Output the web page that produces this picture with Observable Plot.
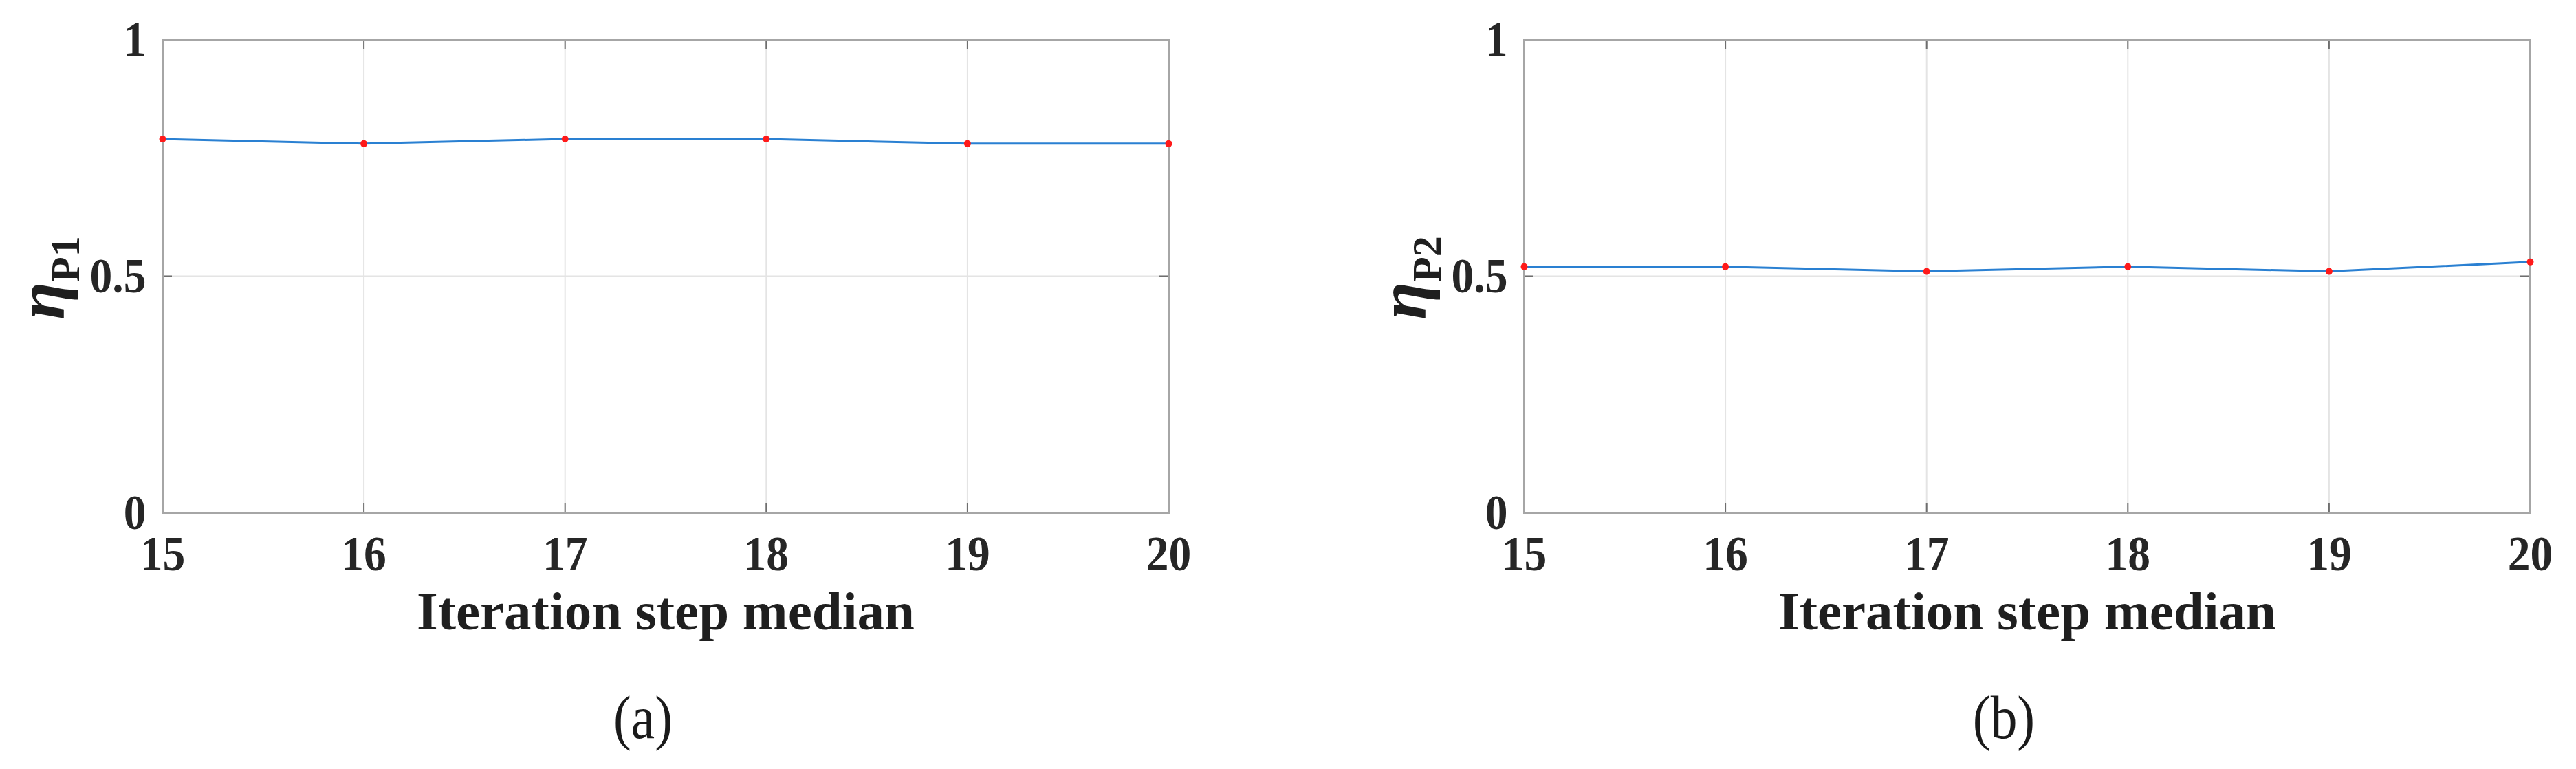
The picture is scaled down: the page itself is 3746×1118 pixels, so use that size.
<!DOCTYPE html>
<html><head><meta charset="utf-8">
<script src="https://cdn.jsdelivr.net/npm/d3@7"></script>
<script src="https://cdn.jsdelivr.net/npm/@observablehq/plot@0.6"></script>
<style>
body{margin:0;background:#fff;width:3746px;height:1118px;position:relative;overflow:hidden;font-family:"Liberation Serif",serif}
.panel{position:absolute;top:0}
.cap{position:absolute;width:400px;text-align:center;font-size:88px;line-height:1;color:#1a1a1a;top:1000px;font-family:"Liberation Serif",serif;transform:scaleX(0.88);transform-origin:50% 50%}
</style></head><body>
<div id="a" class="panel" style="left:0"></div>
<div id="b" class="panel" style="left:1980px"></div>
<div class="cap" style="left:735px">(a)</div>
<div class="cap" style="left:2714px">(b)</div>
<script>
const iterSteps = [15, 16, 17, 18, 19, 20];
const etaP1 = [0.79, 0.78, 0.79, 0.79, 0.78, 0.78];
const etaP2 = [0.52, 0.52, 0.51, 0.52, 0.51, 0.53];
const xTicks = [15, 16, 17, 18, 19, 20];
const xTickLabels = ["15", "16", "17", "18", "19", "20"];
const yTicks = [0, 0.5, 1];
const yTickLabels = ["0", "0.5", "1"];
const xLabel = "Iteration step median";
const yLabelMain = "η";
const yLabelSubs = ["P1", "P2"];

// narrow the tick-label glyphs horizontally around each text's own anchor point
function condense(svg, k) {
  const ns = "http://www.w3.org/2000/svg";
  svg.querySelectorAll("text").forEach(t => {
    if (t.textContent === xLabel) return;
    const m = t.getAttribute("transform") || "";
    const ax = parseFloat(t.getAttribute("x")) || 0;
    const g = document.createElementNS(ns, "g");
    g.setAttribute("transform", `${m} translate(${ax},0) scale(${k},1) translate(${-ax},0)`);
    t.removeAttribute("transform");
    t.parentNode.insertBefore(g, t);
    g.appendChild(t);
  });
}

function panel(values) {
  const data = iterSteps.map((x, i) => ({x, y: values[i]}));
  const W = 1766, H = 960, ML = 236, MR = 67, MT = 57, MB = 215;
  const xTickLen = 14 / (H - MT - MB);
  const yTickLen = 14 / (W - ML - MR) * (xTicks[xTicks.length - 1] - xTicks[0]);
  const inner = xTicks.slice(1, -1);
  const innerY = yTicks.slice(1, -1);
  const x0 = xTicks[0], x1 = xTicks[xTicks.length - 1];
  return Plot.plot({
    width: W, height: H, marginLeft: ML, marginRight: MR, marginTop: MT, marginBottom: MB,
    style: {fontFamily: '"Liberation Serif", serif', fontSize: "72px", fontWeight: "bold", color: "#262626", background: "white", overflow: "visible"},
    x: {domain: [x0, x1]},
    y: {domain: [yTicks[0], yTicks[yTicks.length - 1]]},
    marks: [
      Plot.gridX(inner, {stroke: "#e4e4e4", strokeOpacity: 1, strokeWidth: 2}),
      Plot.gridY(innerY, {stroke: "#e4e4e4", strokeOpacity: 1, strokeWidth: 2}),
      Plot.ruleX(inner, {y1: 0, y2: xTickLen, stroke: "#6e6e6e", strokeWidth: 2}),
      Plot.ruleX(inner, {y1: 1 - xTickLen, y2: 1, stroke: "#6e6e6e", strokeWidth: 2}),
      Plot.ruleY(innerY, {x1: x0, x2: x0 + yTickLen, stroke: "#6e6e6e", strokeWidth: 2}),
      Plot.ruleY(innerY, {x1: x1 - yTickLen, x2: x1, stroke: "#6e6e6e", strokeWidth: 2}),
      Plot.frame({stroke: "#a6a6a6", strokeWidth: 3}),
      Plot.axisX(xTicks, {tickSize: 0, tickPadding: 32, label: null, fontSize: 72, fontWeight: "bold", fill: "#262626",
        tickFormat: d => xTickLabels[xTicks.indexOf(d)]}),
      Plot.axisY(yTicks, {tickSize: 0, tickPadding: 24, label: null, fontSize: 72, fontWeight: "bold", fill: "#262626",
        tickFormat: d => yTickLabels[yTicks.indexOf(d)]}),
      Plot.text([xLabel], {frameAnchor: "bottom", dy: 169, lineAnchor: "bottom", fontSize: 79, fontWeight: "bold", fill: "#1f1f1f"}),
      Plot.line(data, {x: "x", y: "y", stroke: "#2a80d2", strokeWidth: 3}),
      Plot.dot(data, {x: "x", y: "y", r: 5, fill: "#ff1a1a", stroke: "none"})
    ]
  });
}

function addYLabel(svg, sub) {
  const t = d3.select(svg).append("text")
    .attr("transform", "translate(93,404) rotate(-90)")
    .attr("text-anchor", "middle")
    .attr("fill", "#1f1f1f")
    .attr("font-family", '"Liberation Serif", serif');
  t.append("tspan").text(yLabelMain).attr("font-style", "italic").attr("font-weight", "bold").attr("font-size", 100);
  t.append("tspan").text(sub).attr("font-weight", "bold").attr("font-size", 60).attr("dy", 22);
}

[["a", etaP1, yLabelSubs[0]], ["b", etaP2, yLabelSubs[1]]].forEach(([id, vals, sub]) => {
  const svg = panel(vals);
  document.getElementById(id).appendChild(svg);
  condense(svg, 0.91);
  addYLabel(svg, sub);
});
</script>
</body></html>
